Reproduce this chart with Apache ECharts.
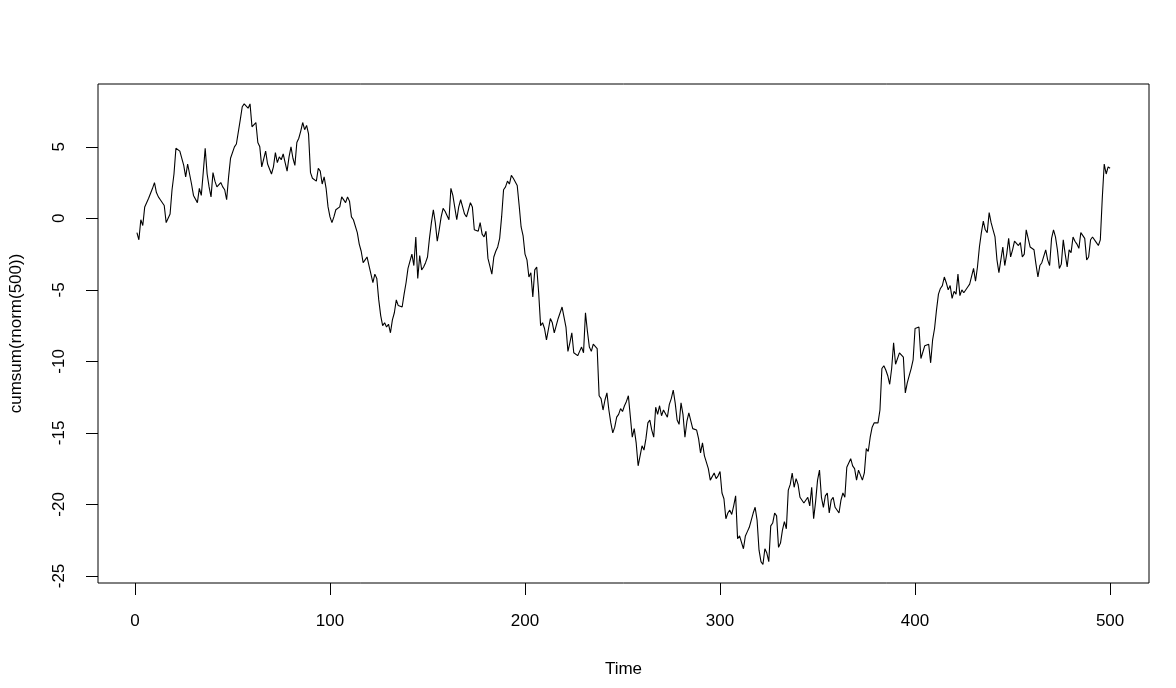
<!DOCTYPE html>
<html>
<head>
<meta charset="utf-8">
<title>cumsum(rnorm(500))</title>
<script src="https://cdn.jsdelivr.net/npm/echarts@6/dist/echarts.min.js"></script>
<style>
  html, body { margin: 0; padding: 0; background: #fff; }
  #chart { width: 1176px; height: 688px; }
</style>
</head>
<body>
<div id="chart"></div>
<script>
// values, one per time step (t = 1..500)
const walk = [
  -1.0, -1.5, -0.1, -0.5, 0.8, 0.7, 1.4, 1.5, 2.1, 2.5,
  1.8, 1.5, 1.3, 1.4, 0.9, -0.3, 0.0, 0.3, 2.0, 3.1,
  4.9, 4.8, 4.7, 4.6, 3.7, 2.9, 3.8, 3.7, 2.4, 1.6,
  1.7, 1.1, 2.1, 1.6, 3.2, 4.9, 3.1, 2.2, 1.5, 3.2,
  2.6, 2.2, 2.3, 2.5, 2.2, 2.0, 1.3, 2.9, 4.2, 4.1,
  5.0, 5.2, 5.3, 6.9, 7.8, 8.0, 8.1, 7.7, 8.0, 6.4,
  6.4, 6.7, 5.3, 5.0, 3.6, 3.6, 4.7, 3.8, 3.9, 3.1,
  3.6, 4.6, 3.9, 4.3, 4.1, 4.5, 3.9, 3.3, 4.3, 5.0,
  4.2, 3.7, 5.3, 5.6, 6.1, 6.7, 6.2, 6.5, 5.9, 3.2,
  2.8, 2.7, 2.6, 3.5, 3.3, 2.4, 2.9, 2.1, 0.8, 0.1,
  // 101
  -0.3, 0.1, 0.6, 0.5, 0.8, 1.5, 1.4, 1.1, 1.5, 1.2,
  0.1, -0.1, 0.0, -1.0, -1.8, -2.3, -3.1, -2.9, -2.7, -3.3,
  -3.9, -4.5, -3.9, -4.2, -5.7, -6.8, -7.5, -7.3, -7.6, -7.4,
  -8.0, -7.1, -6.6, -5.7, -6.1, -6.1, -6.2, -5.3, -4.5, -3.5,
  -3.6, -2.5, -3.3, -1.3, -4.2, -2.6, -3.6, -3.4, -3.1, -2.7,
  -1.4, -0.3, 0.6, -0.3, -1.6, -0.8, 0.1, 0.7, 0.5, 0.2,
  -0.1, 2.1, 1.6, 1.6, -0.1, 0.8, 1.3, 0.8, 0.3, 0.1,
  0.6, 1.1, 0.8, -0.8, -0.9, -0.9, -0.3, -1.1, -1.3, -0.9,
  -2.8, -2.9, -3.9, -2.7, -2.3, -2.0, -1.4, 0.1, 2.0, 2.2,
  2.6, 2.4, 3.0, 2.8, 2.7, 2.3, 0.9, -0.6, -1.2, -2.5,
  // 201
  -2.9, -4.1, -3.8, -5.5, -3.6, -3.4, -5.2, -7.5, -7.3, -7.7,
  -8.5, -8.6, -7.0, -7.3, -8.0, -7.9, -7.0, -6.6, -6.2, -6.9,
  -7.6, -9.3, -8.7, -8.0, -9.4, -9.5, -9.6, -9.3, -9.0, -9.4,
  -6.6, -7.9, -9.0, -9.3, -8.8, -8.7, -9.1, -12.4, -12.6, -13.4,
  -12.7, -12.2, -13.4, -14.3, -15.0, -14.6, -13.9, -13.7, -13.3, -13.5,
  -13.1, -12.8, -12.4, -12.5, -15.3, -14.7, -15.7, -17.3, -17.3, -15.9,
  -16.2, -15.4, -14.3, -14.1, -14.8, -15.3, -13.2, -13.7, -13.1, -13.8,
  -13.4, -13.3, -13.9, -13.0, -12.6, -12.0, -12.9, -14.1, -14.4, -12.9,
  -13.7, -15.3, -14.2, -13.6, -13.5, -14.7, -14.8, -14.8, -15.4, -16.4,
  -15.7, -16.6, -16.7, -17.5, -18.3, -18.4, -17.8, -18.2, -18.0, -17.7,
  // 301
  -19.2, -19.6, -21.0, -20.6, -20.4, -20.7, -20.1, -19.4, -22.4, -22.2,
  -22.2, -23.1, -22.2, -21.9, -21.6, -21.6, -20.6, -20.2, -21.1, -23.2,
  -24.0, -24.2, -23.1, -23.4, -24.0, -21.5, -21.3, -20.6, -20.8, -23.0,
  -22.7, -21.8, -21.2, -21.7, -19.0, -18.6, -17.8, -18.8, -18.2, -18.6,
  -19.5, -19.6, -19.9, -20.0, -19.5, -20.1, -18.8, -21.0, -19.8, -18.3,
  -17.6, -19.5, -20.2, -19.4, -19.2, -20.6, -19.7, -19.5, -20.2, -20.3,
  -20.6, -19.7, -19.2, -19.5, -17.4, -17.5, -16.8, -17.3, -17.5, -18.3,
  -17.6, -17.6, -18.3, -17.8, -16.1, -16.3, -15.3, -14.6, -14.3, -14.4,
  -14.3, -13.4, -10.5, -10.3, -10.6, -11.0, -11.6, -10.5, -8.7, -10.2,
  -10.3, -9.4, -9.5, -9.7, -12.2, -11.5, -11.0, -10.5, -9.9, -7.7,
  // 401
  -7.6, -7.6, -9.8, -9.7, -8.9, -8.9, -8.8, -10.1, -8.5, -7.7,
  -6.4, -5.3, -4.9, -4.7, -4.1, -4.5, -5.0, -4.7, -5.6, -5.1,
  -5.3, -3.9, -5.4, -5.0, -5.2, -5.2, -4.8, -4.6, -4.5, -3.5,
  -4.4, -3.4, -2.0, -1.0, -0.2, -0.8, -1.0, 0.4, -0.3, -0.8,
  -1.3, -2.9, -3.8, -2.9, -2.0, -3.3, -2.5, -1.4, -2.7, -2.2,
  -1.6, -1.6, -1.9, -1.7, -2.7, -2.5, -0.8, -1.4, -2.0, -1.9,
  -2.2, -3.2, -4.1, -3.3, -3.1, -3.1, -2.2, -2.9, -3.3, -1.4,
  -0.8, -1.3, -2.2, -3.5, -3.2, -1.5, -2.5, -3.4, -2.2, -2.4,
  -1.3, -1.6, -1.8, -2.1, -1.0, -1.0, -1.4, -2.9, -2.7, -1.5,
  -1.3, -1.2, -1.7, -1.9, -1.5, 1.4, 3.8, 3.1, 3.6, 3.5
];

const xTicks = [0, 100, 200, 300, 400, 500];
const yTicks = [-25, -20, -15, -10, -5, 0, 5];

const points = walk.map((v, i) => [i + 1, v]);

// R pads each axis range by 4%
const xMin = 1, xMax = walk.length;
const yLo = Math.min(...walk), yHi = Math.max(...walk);
const xPad = (xMax - xMin) * 0.04;
const yPad = (yHi - yLo) * 0.04;

const font = "Liberation Sans, Arial, Helvetica, sans-serif";

const option = {
  backgroundColor: "#fff",
  animation: false,
  grid: {
    left: 98,
    right: 27,
    top: 84,
    bottom: 105,
    outerBoundsMode: "none",
    show: true,
    borderColor: "#000",
    borderWidth: 1,
  },
  xAxis: {
    type: "value",
    min: xMin - xPad,
    max: xMax + xPad,
    name: "Time",
    nameLocation: "middle",
    nameGap: 78,
    nameTextStyle: { color: "#000", fontSize: 17, fontFamily: font },
    axisLine: { show: false, onZero: false },
    splitLine: { show: false },
    axisTick: {
      show: true,
      length: 12,
      customValues: xTicks,
      lineStyle: { color: "#000", width: 1 },
    },
    axisLabel: {
      customValues: xTicks,
      margin: 30,
      color: "#000",
      fontSize: 17,
      fontFamily: font,
    },
  },
  yAxis: {
    type: "value",
    min: yLo - yPad,
    max: yHi + yPad,
    name: "cumsum(rnorm(500))",
    nameLocation: "middle",
    nameRotate: 90,
    nameGap: 73,
    nameTextStyle: { color: "#000", fontSize: 17, fontFamily: font },
    axisLine: { show: false, onZero: false },
    splitLine: { show: false },
    axisTick: {
      show: true,
      length: 12,
      customValues: yTicks,
      lineStyle: { color: "#000", width: 1 },
    },
    axisLabel: {
      customValues: yTicks,
      rotate: 90,
      margin: 30,
      color: "#000",
      fontSize: 17,
      fontFamily: font,
    },
  },
  series: [
    {
      type: "line",
      data: points,
      showSymbol: false,
      symbol: "none",
      lineStyle: { color: "#000", width: 1.1 },
    },
  ],
};

const chart = echarts.init(document.getElementById("chart"));
chart.setOption(option);
</script>
</body>
</html>
